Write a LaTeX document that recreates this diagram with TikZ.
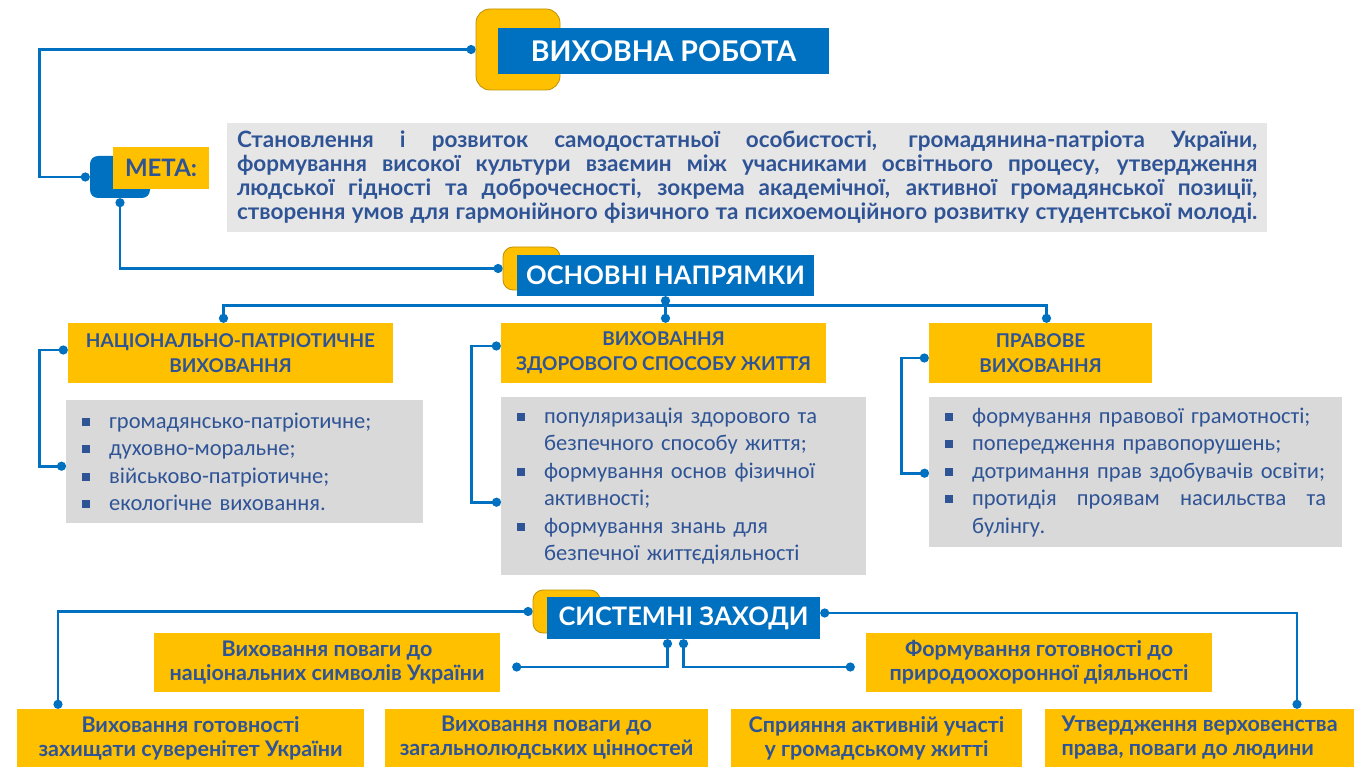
\documentclass[tikz,border=0pt]{standalone}
\usepackage{fontspec}
\setmainfont{Lato}
\newfontfamily\calibfont{Carlito}
\usetikzlibrary{arrows.meta}

\definecolor{lineblue}{HTML}{0070C0}
\definecolor{gold}{HTML}{FFC000}
\definecolor{golddark}{HTML}{BF9000}
\definecolor{inkblue}{HTML}{2F5496}
\definecolor{greylight}{HTML}{E7E6E6}
\definecolor{greymid}{HTML}{D9D9D9}

\newcommand{\sqitem}{\makebox[27pt][l]{\rule[2.5pt]{8pt}{8pt}}}
\newcommand{\sqgap}{\hspace*{27pt}}

\tikzset{
goldtab/.style   = {fill=gold, draw=golddark, line width=0.8pt, rounded corners=14pt, inner sep=0pt},
bluetitle/.style = {fill=lineblue, text=white, inner sep=0pt, font=\bfseries\fontsize{28.5}{33}\selectfont},
goldhead/.style  = {fill=gold, text=inkblue, inner sep=0pt, minimum height=60pt, align=center, font=\bfseries\fontsize{19}{25}\selectfont},
greylist/.style  = {fill=greymid, text=inkblue, anchor=north west, inner xsep=16pt, inner ysep=0pt, align=left, font=\calibfont\fontsize{22.5}{27.5}\selectfont},
goldstep/.style  = {fill=gold, text=inkblue, inner sep=0pt, minimum height=58pt, align=center, font=\bfseries\fontsize{21.5}{24}\selectfont},
link/.style      = {draw=lineblue, line width=2.8pt, {Circle[length=9pt]}-{Circle[length=9pt]}},
}

\begin{document}
\begin{tikzpicture}[x=1pt,y=-1pt]
%\draw[help lines,step=50] (0,0) grid (1370,775);
\useasboundingbox (0,0) rectangle (1370,775);

\node[goldtab, minimum width=84pt, minimum height=81pt] (vrtab) at (518,49.5) {};
\node[bluetitle, minimum width=331pt, minimum height=46pt] (vr) at (663.5,51) {ВИХОВНА РОБОТА};

\node[fill=lineblue, rounded corners=8pt, minimum width=60pt, minimum height=42pt, inner sep=0pt] (metatab) at (120,177) {};
\node[fill=gold, text=inkblue, minimum width=96pt, minimum height=42pt, inner sep=0pt,
      font=\bfseries\fontsize{24}{28}\selectfont] (meta) at (161,168) {МЕТА:};
\node[fill=greylight, text=inkblue, minimum height=109pt, inner xsep=10pt, inner ysep=0pt,
      text width=1020pt, align=justify, font=\bfseries\fontsize{22.5}{24}\selectfont] (goal) at (747,177.5)
  {\tolerance=10000
   Становлення і розвиток самодостатньої особистості, громадянина-патріота України,\linebreak
   формування високої культури взаємин між учасниками освітнього процесу, утвердження\linebreak
   людської гідності та доброчесності, зокрема академічної, активної громадянської позиції,\linebreak
   створення умов для гармонійного фізичного та психоемоційного розвитку студентської молоді.\parfillskip=0pt\par};

\node[goldtab, minimum width=57pt, minimum height=43pt, rounded corners=10pt] (ontab) at (531.5,268.5) {};
\node[bluetitle, minimum width=297pt, minimum height=41pt, font=\bfseries\fontsize{25.5}{30}\selectfont] (on) at (665.5,275.5) {ОСНОВНІ НАПРЯМКИ};

\node[goldhead, minimum width=325pt] (nat) at (230.5,353) {НАЦІОНАЛЬНО-ПАТРІОТИЧНЕ\\ВИХОВАННЯ};
\node[goldhead, minimum width=325pt] (zdr) at (663.5,353) {ВИХОВАННЯ\\ЗДОРОВОГО СПОСОБУ ЖИТТЯ};
\node[goldhead, minimum width=223pt] (prv) at (1040.5,353) {ПРАВОВЕ\\ВИХОВАННЯ};

\node[greylist, text width=325pt, minimum height=123pt] (natlist) at (66,400)
  {\sqitem громадянсько-патріотичне;\\
   \sqitem духовно-моральне;\\
   \sqitem військово-патріотичне;\\
   \sqitem екологічне виховання.};
\node[greylist, text width=333pt, minimum height=178pt] (zdrlist) at (501,397)
  {\sqitem популяризація здорового та\\
   \sqgap безпечного способу життя;\\
   \sqitem формування основ фізичної\\
   \sqgap активності;\\
   \sqitem формування знань для\\
   \sqgap безпечної життєдіяльності};
\node[greylist, text width=381pt, minimum height=150pt] (prvlist) at (929,397)
  {\sqitem формування правової грамотності;\\
   \sqitem попередження правопорушень;\\
   \sqitem дотримання прав здобувачів освіти;\\
   \sqitem протидія\hfill проявам\hfill насильства\hfill та\\
   \sqgap булінгу.};

\node[goldtab, minimum width=67pt, minimum height=43pt, rounded corners=10pt] (sztab) at (566.5,611.5) {};
\node[bluetitle, minimum width=273pt, minimum height=42pt, font=\bfseries\fontsize{25.5}{30}\selectfont] (sz) at (683.5,618) {СИСТЕМНІ ЗАХОДИ};

\node[goldstep, minimum width=346pt, minimum height=59pt] (symb) at (327,662.5) {Виховання поваги до\\національних символів України};
\node[goldstep, minimum width=346pt, minimum height=59pt] (nature) at (1039,662.5) {Формування готовності до\\природоохоронної діяльності};
\node[goldstep, minimum width=347pt] (defend) at (190.5,738) {Виховання готовності\\захищати суверенітет України};
\node[goldstep, minimum width=323pt] (values) at (546.5,738) {Виховання поваги до\\загальнолюдських цінностей};
\node[goldstep, minimum width=291pt] (civic) at (876.5,738) {Сприяння активній участі\\у громадському житті};
\node[goldstep, minimum width=309pt, align=left] (law) at (1199.5,738) {Утвердження верховенства\\права, поваги до людини};

\draw[link] (vrtab.west) -| ([xshift=-50pt]metatab.west) -- (metatab.west);
\draw[link] (metatab.south) |- (ontab.west);

\draw[link] (on.south) -- (on.south |- zdr.north);
\draw[link] ([xshift=-7pt]nat.north) |- ([yshift=-9pt]on.south) -| ([xshift=6pt]prv.north);
\draw[link] ([yshift=3pt]nat.west) -- ++(-28pt,0) |- ([yshift=-4.5pt]natlist.west);
\draw[link] ([yshift=7pt]zdr.west) -- ++(-29pt,0) |- ([yshift=-16pt]zdrlist.west);
\draw[link] ([yshift=-5pt]prv.west) -- ++(-27pt,0) |- ([yshift=-1pt]prvlist.west);

\draw[link] (sztab.west) -| ([xshift=-132.5pt]defend.north);
\draw[link] ([yshift=5pt]sz.east) -| ([xshift=97.5pt]law.north);
\draw[link] ([xshift=-16pt]sz.south) |- ([xshift=12pt,yshift=-4.5pt]symb.east);
\draw[link] (sz.south) |- ([xshift=-11pt,yshift=-4.5pt]nature.west);

\end{tikzpicture}
\end{document}
